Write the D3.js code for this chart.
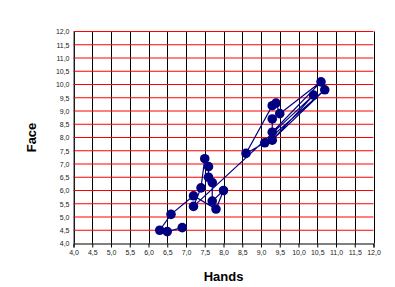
<!DOCTYPE html>
<html><head><meta charset="utf-8">
<script src="https://cdn.jsdelivr.net/npm/d3@7/dist/d3.min.js"></script>
<style>body{margin:0;background:#fff;}svg{display:block;}</style>
</head><body>
<script>
const hands = [6.9,6.5,6.3,6.6,7.2,7.8,8.0,7.7,7.7,7.6,7.6,7.5,7.4,7.2,10.4,9.3,10.7,9.1,8.6,9.3,9.4,9.5,10.6,9.3,9.3];
const face  = [4.6,4.45,4.5,5.1,5.8,5.3,6.0,5.6,6.3,6.5,6.9,7.2,6.1,5.4,9.6,7.9,9.8,7.8,7.4,9.2,9.3,8.9,10.1,8.2,8.7];
const tickValues = d3.range(4, 12.01, 0.5);
const xTitle = "Hands", yTitle = "Face";

const W = 395, H = 287;
const m = {l: 73.5, r: 373.5, t: 31.5, b: 243.5};
const svg = d3.select("body").append("svg").attr("width", W).attr("height", H);
const x = d3.scaleLinear().domain([4, 12]).range([m.l, m.r]);
const y = d3.scaleLinear().domain([4, 12]).range([m.b, m.t]);
const fmt = v => v.toFixed(1).replace(".", ",");

// vertical black gridlines
svg.append("g").selectAll("line").data(tickValues).join("line")
  .attr("x1", d => Math.round(x(d)) + 0.5).attr("x2", d => Math.round(x(d)) + 0.5)
  .attr("y1", m.t).attr("y2", m.b).attr("stroke", "#000").attr("stroke-width", 1);
// horizontal red gridlines
svg.append("g").selectAll("line").data(tickValues.filter(d => d > 4)).join("line")
  .attr("x1", m.l).attr("x2", m.r)
  .attr("y1", d => y(d)).attr("y2", d => y(d)).attr("stroke", "#ff0000").attr("stroke-width", 1);

// x axis
const xa = svg.append("g").attr("transform", `translate(0,${m.b})`)
  .call(d3.axisBottom(x).tickValues(tickValues).tickFormat(fmt).tickSize(4).tickPadding(3));
xa.select(".domain").attr("stroke", "#000");
xa.selectAll("line").attr("stroke", "#000");
xa.selectAll("text").attr("font-family", "Liberation Sans, Arial, sans-serif").attr("font-size", 7).attr("fill", "#222");

// y axis
const ya = svg.append("g").attr("transform", `translate(${m.l},0)`)
  .call(d3.axisLeft(y).tickValues(tickValues).tickFormat(fmt).tickSize(0).tickPadding(4));
ya.select(".domain").attr("stroke", "#333");
ya.selectAll("text").attr("font-family", "Liberation Sans, Arial, sans-serif").attr("font-size", 7).attr("fill", "#222");

// series
const pts = hands.map((h, i) => ({h, f: face[i]}));
svg.append("path").datum(pts)
  .attr("d", d3.line().x(d => x(d.h)).y(d => y(d.f)))
  .attr("fill", "none").attr("stroke", "#000080").attr("stroke-width", 1.2);
svg.append("g").selectAll("circle").data(pts).join("circle")
  .attr("cx", d => x(d.h)).attr("cy", d => y(d.f)).attr("r", 4.8).attr("fill", "#000080");

// titles
svg.append("text").attr("x", (m.l + m.r) / 2).attr("y", 281).attr("text-anchor", "middle")
  .attr("font-family", "Liberation Sans, Arial, sans-serif").attr("font-weight", "bold").attr("font-size", 13).text(xTitle);
svg.append("text").attr("transform", `translate(36,${(m.t + m.b) / 2}) rotate(-90)`).attr("text-anchor", "middle")
  .attr("font-family", "Liberation Sans, Arial, sans-serif").attr("font-weight", "bold").attr("font-size", 13).text(yTitle);
</script>
</body></html>
